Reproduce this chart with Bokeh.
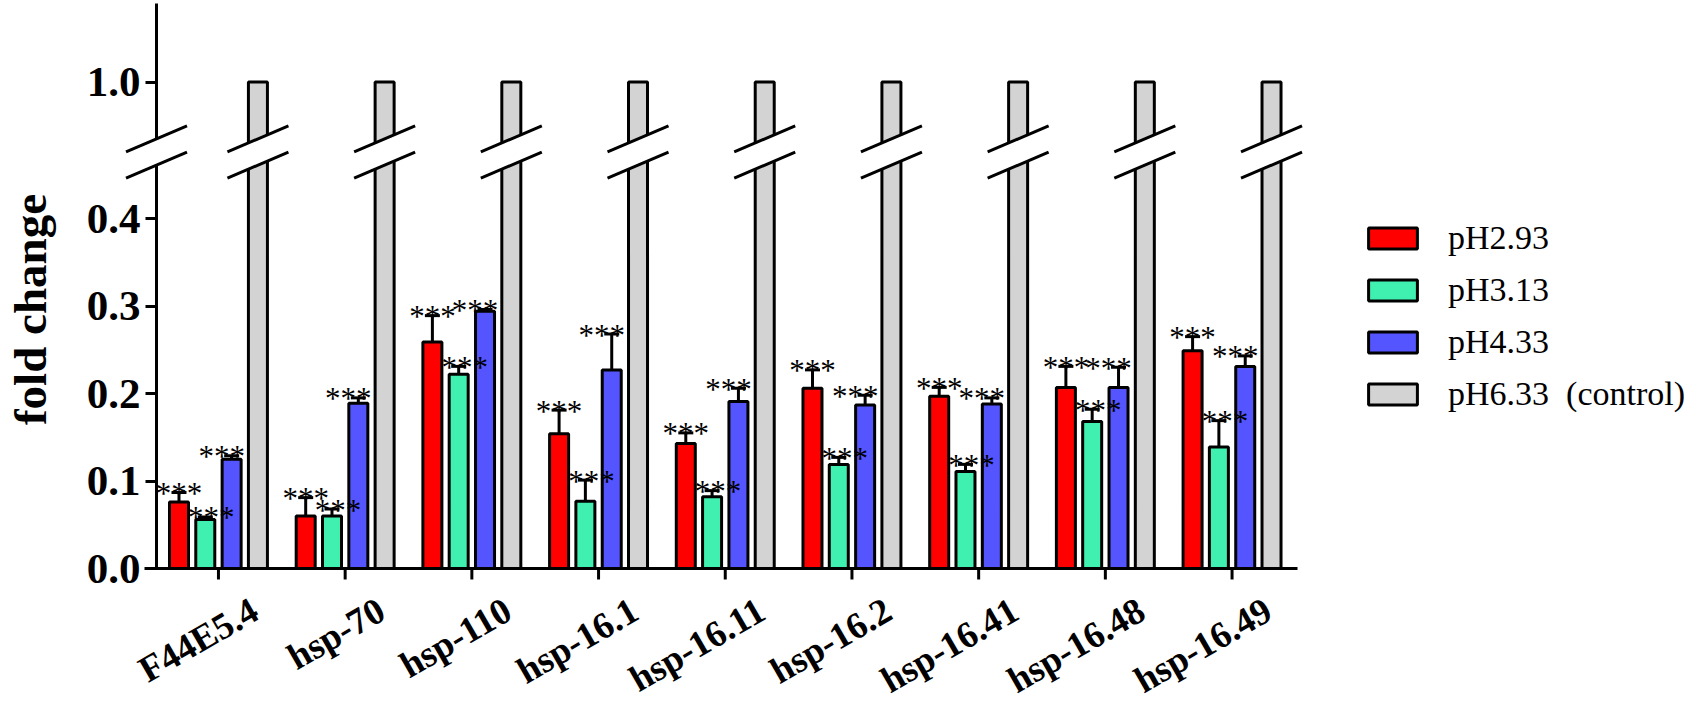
import math
from bokeh.plotting import figure
from bokeh.models import Range1d, FixedTicker, Legend, LegendItem
from bokeh.embed import file_html
from bokeh.resources import INLINE
from bokeh.core.properties import value

# ---------------- data ----------------
genes = ["F44E5.4", "hsp-70", "hsp-110", "hsp-16.1", "hsp-16.11",
         "hsp-16.2", "hsp-16.41", "hsp-16.48", "hsp-16.49"]
series_names = ["pH2.93", "pH3.13", "pH4.33", "pH6.33\u00a0 (control)"]

ph293 = [0.076, 0.060, 0.259, 0.154, 0.143, 0.206, 0.197, 0.207, 0.249]
ph293_err = [0.011, 0.021, 0.030, 0.027, 0.012, 0.021, 0.010, 0.024, 0.016]
ph313 = [0.056, 0.060, 0.222, 0.077, 0.082, 0.119, 0.111, 0.168, 0.139]
ph313_err = [0.003, 0.008, 0.009, 0.024, 0.007, 0.008, 0.008, 0.014, 0.030]
ph433 = [0.125, 0.189, 0.294, 0.227, 0.191, 0.187, 0.188, 0.207, 0.231]
ph433_err = [0.004, 0.006, 0.002, 0.041, 0.015, 0.011, 0.007, 0.023, 0.012]
ph633 = [1.0, 1.0, 1.0, 1.0, 1.0, 1.0, 1.0, 1.0, 1.0]

sig293 = ["***"] * 9
sig313 = ["***"] * 9
sig433 = ["***"] * 9

ytick_values = [0.0, 0.1, 0.2, 0.3, 0.4, 1.0]
ytick_labels = ["0.0", "0.1", "0.2", "0.3", "0.4", "1.0"]

colors = ["#FF0000", "#40F0B0", "#5555FF", "#D3D3D3"]

# ---------------- broken-axis geometry ----------------
BREAK_LO = 0.461      # top of the lower axis segment (data units)
GAP = 0.03            # visual gap between segments (plot units)
SHIFT = 0.444         # values above the break are drawn shifted down by this
PX = 126.7            # pixels per x unit
PY = 875.0            # pixels per y unit
FRAME_W, FRAME_H = 1141, 565
Y_END = FRAME_H / PY
X_START = -0.489
X_END = X_START + FRAME_W / PX

def to_plot(v):
    return v if v <= BREAK_LO else v - SHIFT

OFF = [-0.3115, -0.104, 0.104, 0.3115]
BW = 0.15
CAP = 7.5 / PX
SERIF = "Liberation Serif"

p = figure(frame_width=FRAME_W, frame_height=FRAME_H, output_backend="svg", toolbar_location=None,
           x_range=Range1d(X_START, X_END), y_range=Range1d(0, Y_END),
           min_border_left=155, min_border_right=0, min_border_top=3,
           min_border_bottom=133)
p.xgrid.visible = False
p.ygrid.visible = False
p.outline_line_color = None
p.background_fill_color = "white"
p.xaxis.visible = False

vals = [ph293, ph313, ph433, ph633]
errs = [ph293_err, ph313_err, ph433_err, None]
sigs = [sig293, sig313, sig433, None]
dxs = [0, 6, -10, 0]

# bars
renderers = []
for k in range(4):
    xs = [g + OFF[k] for g in range(len(genes))]
    tops = [to_plot(v) for v in vals[k]]
    r = p.vbar(x=xs, top=tops, bottom=0, width=BW, fill_color=colors[k],
               line_color="black", line_width=3)
    renderers.append(r)

# error bars (upper only)
for k in range(3):
    xs = [g + OFF[k] for g in range(len(genes))]
    tops = [to_plot(v) for v in vals[k]]
    caps = [to_plot(v + e) for v, e in zip(vals[k], errs[k])]
    p.segment(x0=xs, y0=tops, x1=xs, y1=caps, line_color="black", line_width=3)
    p.segment(x0=[x - CAP for x in xs], y0=caps, x1=[x + CAP for x in xs], y1=caps,
              line_color="black", line_width=3)

# significance marks, on top of everything
for k in range(3):
    xs = [g + OFF[k] for g in range(len(genes))]
    caps = [to_plot(v + e) for v, e in zip(vals[k], errs[k])]
    p.text(x=xs, y=caps, text=sigs[k], text_font=value(SERIF),
           text_font_size="31px", text_align="center", text_baseline="alphabetic",
           x_offset=dxs[k], y_offset=1, text_color="black")

# break marks (axis + every control bar)
HW = 30.5 / PX
HH = 13.0 / PY
yU = BREAK_LO + GAP
yL = BREAK_LO
centers = [X_START] + [g + OFF[3] for g in range(len(genes))]
p.patches(xs=[[c - HW, c + HW, c + HW, c - HW] for c in centers],
          ys=[[yU - HH, yU + HH, yL + HH, yL - HH] for c in centers],
          fill_color="white", line_color=None, level="overlay")
# y axis line in two pieces
p.segment(x0=[X_START, X_START], y0=[0, yU], x1=[X_START, X_START], y1=[yL, Y_END],
          line_color="black", line_width=3, level="overlay")
sx0 = [c - HW for c in centers] * 2
sx1 = [c + HW for c in centers] * 2
sy0 = [yU - HH] * len(centers) + [yL - HH] * len(centers)
sy1 = [yU + HH] * len(centers) + [yL + HH] * len(centers)
p.segment(x0=sx0, y0=sy0, x1=sx1, y1=sy1, line_color="black", line_width=3, level="overlay")

# x axis: line, ticks and slanted gene names
p.segment(x0=[X_START - 12 / PX], y0=[0], x1=[X_END], y1=[0],
          line_color="black", line_width=3, level="overlay")
gx = list(range(len(genes)))
p.segment(x0=gx, y0=[0] * len(gx), x1=gx, y1=[-11 / PY] * len(gx),
          line_color="black", line_width=3, level="overlay")
p.text(x=[g + 26 / PX for g in gx], y=[-21 / PY] * len(gx), text=genes,
       angle=math.radians(30), text_align="right", text_baseline="top",
       text_font=value(SERIF), text_font_style="bold", text_font_size="37px",
       text_color="black", level="overlay")

# y axis
yt = [round(to_plot(v), 4) for v in ytick_values]
p.yaxis.ticker = FixedTicker(ticks=yt)
p.yaxis.major_label_overrides = {t: lab for t, lab in zip(yt, ytick_labels)}
p.yaxis.axis_line_color = None
p.yaxis.major_tick_in = 0
p.yaxis.major_tick_out = 11
p.yaxis.major_tick_line_width = 3
p.yaxis.minor_tick_line_color = None
p.yaxis.major_label_standoff = 5
p.yaxis.major_label_text_font = SERIF
p.yaxis.major_label_text_font_style = "bold"
p.yaxis.major_label_text_font_size = "43px"
p.yaxis.major_label_text_color = "black"
p.yaxis.axis_label = "fold change\u00a0\u00a0\u00a0\u00a0"
p.yaxis.axis_label_text_font = SERIF
p.yaxis.axis_label_text_font_style = "bold"
p.yaxis.axis_label_text_font_size = "47px"
p.yaxis.axis_label_text_color = "black"
p.yaxis.axis_label_standoff = 28

legend = Legend(items=[LegendItem(label=n, renderers=[r]) for n, r in zip(series_names, renderers)],
                location=(65, 155), glyph_width=61, glyph_height=26, label_standoff=25,
                label_text_font=SERIF, label_text_font_size="34px", label_text_color="black",
                label_height=38, spacing=14, padding=0, margin=0,
                border_line_color=None, background_fill_alpha=0)
p.add_layout(legend, "right")

open("out.html", "w").write(file_html(p, INLINE))
